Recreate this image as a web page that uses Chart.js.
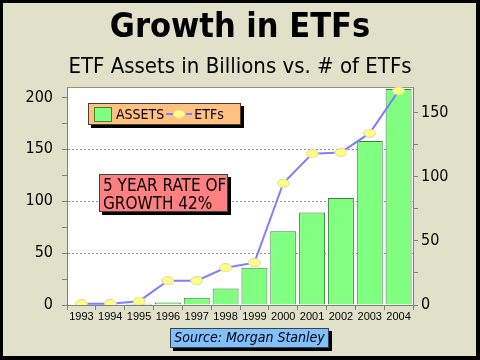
<!DOCTYPE html>
<html>
<head>
<meta charset="utf-8">
<script src="https://cdn.jsdelivr.net/npm/chart.js@4.4.0/dist/chart.umd.min.js"></script>
<style>
  html, body { margin: 0; padding: 0; }
  body { width: 480px; height: 360px; position: relative; overflow: hidden; font-family: "DejaVu Sans Condensed", "DejaVu Sans", sans-serif; }
  #wrap { position: absolute; left: 0; top: 0; width: 480px; height: 360px; }
  .box { position: absolute; border: 1px solid #404040; box-shadow: 3px 3px 0 #000; color: #000; }
  #legend { left: 88px; top: 103px; width: 151px; height: 20px; background: #ffc080; font-size: 14px; display: flex; align-items: center; }
  #legend .sw { display: inline-block; width: 16px; height: 13px; background: #80ff80; border: 1px solid #408040; margin: 0 4px 0 5px; }
  #legend canvas { margin: 0 2px 0 2px; }
  #note { left: 99px; top: 174px; width: 129px; height: 38px; background: #ff8080; font-size: 17px; line-height: 18px; padding: 1px 0 0 3px; box-sizing: border-box; }
  #source { left: 170px; top: 328px; width: 157px; height: 18px; background: #80c0ff; font-size: 14px; font-style: italic; line-height: 17px; text-align: center; }
</style>
</head>
<body>
<div id="wrap"><canvas id="myChart" width="480" height="360"></canvas></div>
<div id="legend" class="box"></div>
<div id="note" class="box">5 YEAR RATE OF<br>GROWTH 42%</div>
<div id="source" class="box">Source: Morgan Stanley</div>
<script>
const years = ['1993', '1994', '1995', '1996', '1997', '1998', '1999', '2000', '2001', '2002', '2003', '2004'];
// assets in billions (left axis)
const assets = [0.5, 0.5, 1.2, 2.5, 7, 16, 36, 71, 89, 103, 158, 208];
// number of ETFs (right axis)
const etfs = [1, 1, 3, 19, 19, 29, 33, 95, 118, 119, 134, 167];
const leftTicks = [0, 50, 100, 150, 200];
const rightTicks = [0, 50, 100, 150];

// yellow ellipse marker
function makeEllipse(w, h) {
  const c = document.createElement('canvas');
  c.width = w; c.height = h;
  const g = c.getContext('2d');
  g.beginPath();
  g.ellipse(w / 2, h / 2, w / 2 - 0.5, h / 2 - 0.5, 0, 0, Math.PI * 2);
  g.fillStyle = '#ffff80';
  g.fill();
  g.strokeStyle = '#d8d8a0';
  g.lineWidth = 1;
  g.stroke();
  return c;
}
const dot = makeEllipse(13, 9);

const frame = {
  id: 'frame',
  beforeDraw(chart) {
    const c = chart.ctx;
    const a = chart.chartArea;
    c.save();
    c.fillStyle = '#000';
    c.fillRect(0, 0, chart.width, chart.height);
    c.fillStyle = '#e1e1c9';
    c.fillRect(3, 3, 473, 353);
    c.fillStyle = '#fff';
    c.fillRect(a.left, a.top, a.right - a.left, a.bottom - a.top);
    c.strokeStyle = '#909090';
    c.lineWidth = 1;
    c.beginPath();
    c.moveTo(a.left, a.top + 0.5);
    c.lineTo(a.right, a.top + 0.5);
    c.stroke();
    c.restore();
  }
};

const ctx = document.getElementById('myChart');
const chart = new Chart(ctx, {
  data: {
    labels: years,
    datasets: [
      {
        type: 'line',
        label: 'ETFs',
        data: etfs,
        yAxisID: 'y2',
        borderColor: '#8080ff',
        borderWidth: 2,
        tension: 0,
        pointStyle: dot,
        order: 0
      },
      {
        type: 'bar',
        label: 'ASSETS',
        data: assets,
        yAxisID: 'y',
        backgroundColor: '#80ff80',
        borderColor: '#408040',
        borderWidth: 1,
        categoryPercentage: 1,
        barPercentage: 0.9,
        order: 1
      }
    ]
  },
  options: {
    responsive: false,
    animation: false,
    layout: { padding: { top: 0, left: 0, right: 0, bottom: 0 } },
    plugins: {
      legend: { display: false },
      tooltip: { enabled: false },
      title: {
        display: true,
        text: 'Growth in ETFs',
        color: '#000',
        font: { family: 'DejaVu Sans Condensed, DejaVu Sans', size: 34, weight: 'bold', lineHeight: 1 },
        padding: { top: 11, bottom: 2 }
      },
      subtitle: {
        display: true,
        text: 'ETF Assets in Billions vs. # of ETFs',
        color: '#000',
        font: { family: 'DejaVu Sans Condensed, DejaVu Sans', size: 22, lineHeight: 1 },
        padding: { top: 9, bottom: 9 }
      }
    },
    scales: {
      x: {
        grid: { display: true, offset: true, drawOnChartArea: false, color: '#808080', tickLength: 5 },
        border: { color: '#808080' },
        ticks: { color: '#000', font: { family: 'Liberation Sans', size: 11 }, padding: 0, maxRotation: 0, autoSkip: false },
        afterFit(s) { s.height = 55; }
      },
      y: {
        position: 'left',
        min: 0,
        max: 210,
        grid: {
          color: c => (c.tick && leftTicks.includes(c.tick.value) && c.tick.value > 0 && c.tick.value < 200) ? '#909090' : 'rgba(0,0,0,0)',
          tickColor: '#808080',
          tickLength: 5
        },
        border: { color: '#808080', dash: [2, 2] },
        ticks: {
          stepSize: 25,
          includeBounds: false,
          color: '#000',
          font: { family: 'DejaVu Sans Condensed, DejaVu Sans', size: 16 },
          padding: 9,
          callback: v => leftTicks.includes(v) ? v : ''
        },
        afterFit(s) { s.width = 67; }
      },
      y2: {
        position: 'right',
        min: 0,
        max: 170,
        grid: { drawOnChartArea: false, color: '#808080', tickLength: 5 },
        border: { color: '#808080' },
        ticks: {
          stepSize: 25,
          includeBounds: false,
          color: '#000',
          font: { family: 'DejaVu Sans Condensed, DejaVu Sans', size: 16 },
          padding: 3,
          callback: v => rightTicks.includes(v) ? v : ''
        },
        afterFit(s) { s.width = 67; }
      }
    }
  },
  plugins: [frame]
});

// legend built from the datasets
const legend = document.getElementById('legend');
const sw = document.createElement('span');
sw.className = 'sw';
legend.appendChild(sw);
legend.appendChild(document.createTextNode(chart.data.datasets[1].label));
const ln = document.createElement('canvas');
ln.width = 26; ln.height = 10;
const lg = ln.getContext('2d');
lg.strokeStyle = '#8080ff'; lg.lineWidth = 2;
lg.beginPath(); lg.moveTo(0, 5); lg.lineTo(26, 5); lg.stroke();
lg.drawImage(makeEllipse(13, 9), 6.5, 0.5);
legend.appendChild(ln);
legend.appendChild(document.createTextNode(chart.data.datasets[0].label));
</script>
</body>
</html>
